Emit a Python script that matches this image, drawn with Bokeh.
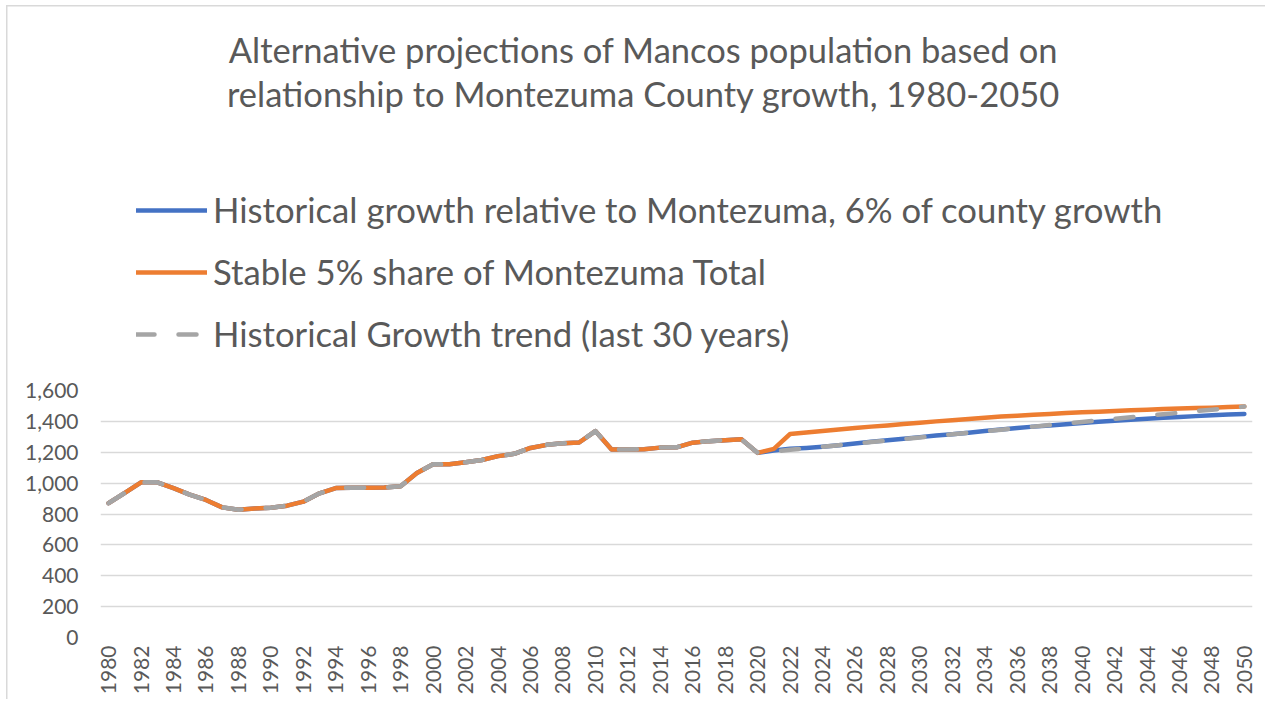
import numpy as np
from bokeh.plotting import figure
from bokeh.layouts import column
from bokeh.models import (Range1d, FixedTicker, NumeralTickFormatter, BasicTickFormatter,
                          Legend, LegendItem)
from bokeh.core.properties import value
from bokeh.embed import file_html
from bokeh.resources import INLINE

# ---------------- data ----------------
years = list(range(1980, 2051))

historical = [870, 937, 1005, 1005, 968, 925, 891, 843, 828, 835,
              841, 854, 880, 934, 968, 970, 970, 972, 980, 1065,
              1122, 1122, 1135, 1150, 1175, 1190, 1228, 1248, 1258, 1263,
              1337, 1218, 1218, 1220, 1230, 1232, 1262, 1272, 1278, 1284,
              1196]

relative_proj = [1211, 1222, 1228, 1236, 1246, 1257, 1268, 1278, 1288, 1298,
                 1308, 1317, 1327, 1337, 1347, 1357, 1366, 1374, 1382, 1389,
                 1397, 1404, 1411, 1417, 1423, 1428, 1434, 1439, 1444, 1448]

share_proj = [1222, 1318, 1328, 1337, 1347, 1357, 1366, 1374, 1383, 1391,
              1400, 1408, 1416, 1424, 1431, 1437, 1443, 1448, 1454, 1459,
              1463, 1467, 1472, 1476, 1480, 1483, 1486, 1489, 1493, 1496]

trend_proj = [1206, 1216, 1226, 1236, 1246, 1256, 1266, 1276, 1286, 1296,
              1306, 1316, 1326, 1336, 1346, 1356, 1366, 1376, 1386, 1396,
              1406, 1416, 1426, 1436, 1446, 1456, 1466, 1476, 1486, 1496]

series_names = ["Historical growth relative to Montezuma, 6% of county growth",
                "Stable 5% share of Montezuma Total",
                "Historical Growth trend (last 30 years)"]
series_colors = ["#4472C4", "#ED7D31", "#A5A5A5"]
series_dash = ["solid", "solid", "18 24"]

title_lines = ["Alternative projections of Mancos population based on",
               "relationship to Montezuma County growth, 1980-2050"]

y_ticks = list(range(0, 1601, 200))
x_ticks = years[::2]

relative = historical + relative_proj
share = historical + share_proj
trend = historical + trend_proj
series_values = [relative, share, trend]

FONT = "Lato"
TXT = "#595959"
W = 1265
HEAD_H = 376
CHART_H = 323
FRAME_L, FRAME_R = 100, 1252   # page x of the plotting frame (shared by both rows)

# ---------------- header: title + legend ----------------
# the column aligns both frames, so the header's frame spans FRAME_L..FRAME_R;
# its ranges are set so that one unit is one pixel of the page
head = figure(width=W, height=HEAD_H, output_backend="svg", toolbar_location=None,
              x_range=Range1d(FRAME_L, FRAME_R), y_range=Range1d(HEAD_H, 0),
              x_axis_type=None, y_axis_type=None,
              min_border=0, min_border_left=FRAME_L, min_border_right=W - FRAME_R,
              min_border_top=0, min_border_bottom=0)
head.grid.visible = False
head.outline_line_color = None
head.border_fill_alpha = 0
head.background_fill_alpha = 0

head.text(x=[643, 643], y=[49, 93], text=title_lines,
          text_font=value(FONT), text_font_size="34.5px", text_color=TXT,
          text_align="center", text_baseline="alphabetic")

# legend swatches (single off-screen point: they draw nothing themselves)
dummies = [head.line(x=[FRAME_L], y=[-1000], line_color=c, line_width=4.5,
                     line_cap="round", line_join="round", line_dash=d)
           for c, d in zip(series_colors, series_dash)]

legend = Legend(items=[LegendItem(label=n, renderers=[r])
                       for n, r in zip(series_names, dummies)],
                location=(136 - FRAME_L, HEAD_H - 354), orientation="vertical",
                glyph_width=71, glyph_height=40, label_height=40,
                label_standoff=6, spacing=21, padding=0, margin=0,
                border_line_color=None, background_fill_alpha=0,
                label_text_font=FONT, label_text_font_size="34.7px",
                label_text_color=TXT)
head.add_layout(legend)

# ---------------- chart ----------------
p = figure(width=W, height=CHART_H, output_backend="svg", toolbar_location=None,
           x_range=Range1d(1979.5, 2050.5), y_range=Range1d(0, 1600),
           min_border_left=FRAME_L, min_border_right=W - FRAME_R, min_border_top=14,
           min_border_bottom=62)
p.outline_line_color = None
p.background_fill_color = "white"
p.border_fill_alpha = 0

p.xgrid.visible = False
p.ygrid.grid_line_color = "#d9d9d9"
p.ygrid.grid_line_width = 1.3

p.yaxis.ticker = FixedTicker(ticks=y_ticks)
p.yaxis.formatter = NumeralTickFormatter(format="0,0")
p.yaxis.axis_line_color = None
p.yaxis.major_tick_line_color = None
p.yaxis.minor_tick_line_color = None
p.yaxis.major_tick_out = 0
p.yaxis.major_tick_in = 0
p.yaxis.major_label_standoff = 22
p.yaxis.major_label_text_font = FONT
p.yaxis.major_label_text_font_size = "21px"
p.yaxis.major_label_text_color = TXT

p.xaxis.ticker = FixedTicker(ticks=x_ticks)
p.xaxis.formatter = BasicTickFormatter(use_scientific=False)
p.xaxis.major_label_orientation = np.pi / 2
p.xaxis.axis_line_color = None
p.xaxis.major_tick_line_color = None
p.xaxis.minor_tick_line_color = None
p.xaxis.major_tick_out = 0
p.xaxis.major_tick_in = 0
p.xaxis.major_label_standoff = 8
p.xaxis.major_label_text_font = FONT
p.xaxis.major_label_text_font_size = "21px"
p.xaxis.major_label_text_color = TXT

for vals, c, d in zip(series_values, series_colors, series_dash):
    p.line(years, vals, line_color=c, line_width=4.5, line_join="round",
           line_cap="round", line_dash=d)

layout = column(head, p, spacing=0, styles={
    "background-image": "linear-gradient(#d9d9d9, #d9d9d9), linear-gradient(#d9d9d9, #d9d9d9)",
    "background-size": "1.5px 100%, 100% 1.5px",
    "background-position": "6px 5px, 6px 5px",
    "background-repeat": "no-repeat",
})

open("out.html", "w").write(file_html(layout, INLINE))
